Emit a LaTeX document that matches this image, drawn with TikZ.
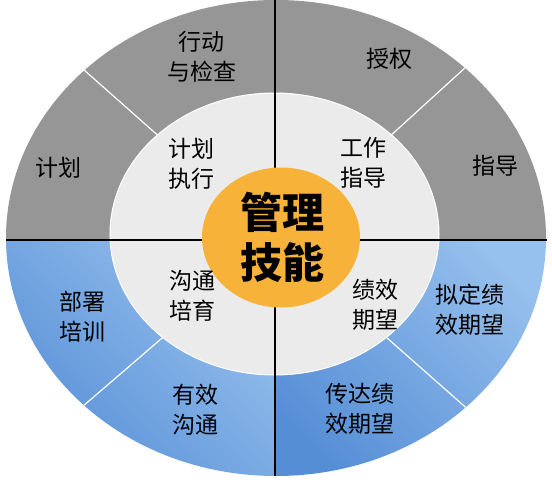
\documentclass[tikz,border=0pt]{standalone}
\usepackage{fontspec}
\setmainfont{Noto Sans CJK SC}
\definecolor{ringgray}{RGB}{150,150,150}
\definecolor{midgray}{RGB}{235,235,235}
\definecolor{coreorange}{RGB}{247,178,58}
\definecolor{blueDark}{RGB}{86,142,214}
\definecolor{blueLight}{RGB}{150,192,237}

\begin{document}
\begin{tikzpicture}[x=1pt, y=1pt,
  skill/.style={align=center, inner sep=0pt, font=\fontsize{23}{30}\selectfont},
  core/.style={align=center, inner sep=0pt, font=\fontsize{42}{50}\selectfont\bfseries},
  bluesector/.style={top color=blueLight, bottom color=blueDark, shading angle=-45},
  divider/.style={draw=white, line width=1.2pt}]
\useasboundingbox (-276,-245) rectangle (276,240);

% Outer ring
\coordinate (c) at (0,0);
\coordinate (tl) at (-280,248);
\coordinate (tr) at (280,255);
\coordinate (bl) at (-280,-241);
\coordinate (br) at (280,-247);
\begin{scope}
\clip (0,2) ellipse [x radius=270, y radius=238];
\fill[ringgray] (-280,0) rectangle (280,250);
\shade[bluesector] (c) -- (-280,0) -- (bl) -- cycle;
\shade[bluesector] (c) -- (bl) -- (-280,-250) -- (0,-250) -- cycle;
\shade[bluesector] (c) -- (0,-250) -- (280,-250) -- (br) -- cycle;
\shade[bluesector] (c) -- (br) -- (280,0) -- cycle;
\draw[divider] (c) -- (tl);
\draw[divider] (c) -- (tr);
\draw[divider] (c) -- (bl);
\draw[divider] (c) -- (br);
\end{scope}

% Middle ring
\fill[midgray, draw=white, line width=1pt] (-1.5,6) ellipse [x radius=164.5, y radius=141];

% Cross
\draw[line width=2pt] (-1,240) -- (-1,-236);
\draw[line width=2pt] (-270,0) -- (271,0);

% Core
\fill[coreorange] (5,2.5) ellipse [x radius=79, y radius=70];
\node[core] (title) at (7,3) {管理\\技能};

% Labels
\node[skill] (plan) at (-217,72) {计划};
\node[skill] (act) at (-74,183) {行动\\与检查};
\node[skill] (auth) at (114,181) {授权};
\node[skill] (guide) at (219,74) {指导};
\node[skill] (train) at (-193,-77) {部署\\培训};
\node[skill] (talk) at (-80,-169.5) {有效\\沟通};
\node[skill] (pass) at (84,-169) {传达绩\\效期望};
\node[skill] (draft) at (194,-69.5) {拟定绩\\效期望};
\node[skill] (exec) at (-84,76) {计划\\执行};
\node[skill] (work) at (88,77.5) {工作\\指导};
\node[skill] (coach) at (-83,-56) {沟通\\培育};
\node[skill] (expect) at (100,-64.5) {绩效\\期望};
\end{tikzpicture}
\end{document}
